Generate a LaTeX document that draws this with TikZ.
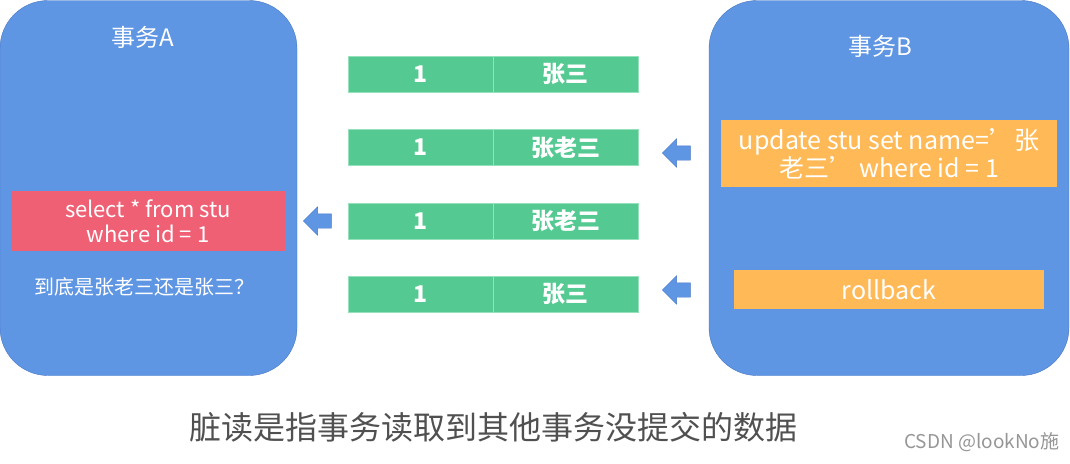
\documentclass[tikz,border=0pt]{standalone}
\usepackage{fontspec}
\setmainfont{Noto Sans CJK SC}
\usetikzlibrary{shapes.arrows}
\definecolor{DrBlue}{RGB}{94,150,228}
\definecolor{DrBlueEdge}{RGB}{72,118,196}
\definecolor{DrRed}{RGB}{239,96,117}
\definecolor{DrOrange}{RGB}{255,185,86}
\definecolor{DrGreen}{RGB}{84,201,146}
\definecolor{DrGreenEdge}{RGB}{150,224,188}
\definecolor{DrInk}{RGB}{80,80,80}
\definecolor{DrMark}{RGB}{150,150,150}
\tikzset{
  dr/txn/.style={
    draw=DrBlueEdge,
    fill=DrBlue,
    rounded corners=48pt,
    inner sep=0pt
  },
  dr/title/.style={text=white, font=\fontsize{24}{28}\selectfont},
  dr/sql/.style={
    fill=DrRed,
    text=white,
    align=center,
    inner sep=0pt,
    font=\fontsize{22}{25}\selectfont
  },
  dr/op/.style={
    fill=DrOrange,
    text=white,
    align=center,
    inner sep=0pt,
    font=\fontsize{25}{28}\selectfont
  },
  dr/cell/.style={
    fill=DrGreen,
    draw=DrGreenEdge,
    line width=0.8pt,
    minimum width=145pt,
    minimum height=36pt,
    inner sep=0pt,
    text=white,
    font=\bfseries\fontsize{23}{26}\selectfont
  },
  dr/push/.style={
    single arrow,
    shape border rotate=180,
    draw=DrBlueEdge,
    fill=DrBlue,
    minimum height=28pt,
    single arrow head extend=7pt,
    inner sep=7pt
  },
  dr/note/.style={text=white, font=\fontsize{20}{24}\selectfont}
}
\begin{document}
\begin{tikzpicture}[x=1pt,y=-1pt]
  \useasboundingbox (0,0) rectangle (1070,463);
  % transaction A
  \node[dr/txn,minimum width=297pt,minimum height=375pt] (txnA) at (148.5,188) {};
  \node[dr/title] (titleA) at (143,37) {事务A};
  \node[dr/sql,minimum width=274pt,minimum height=60pt] (select) at (148,221) {select * from stu\\where id = 1};
  \node[dr/note] (doubt) at (144,287) {到底是张老三还是张三？};
  % transaction B
  \node[dr/txn,minimum width=360pt,minimum height=375pt] (txnB) at (889,188) {};
  \node[dr/title] (titleB) at (880,46) {事务B};
  \node[dr/op,minimum width=336pt,minimum height=67pt] (update) at (889,153.5) {update stu set name=’张\\老三’ where id = 1};
  \node[dr/op,minimum width=310pt,minimum height=39pt] (rollback) at (889,289.5) {rollback};
  % rows of stu
  \node[dr/cell] (r1id) at (420.5,74) {1};
  \node[dr/cell] (r1name) at (565.5,74) {张三};
  \node[dr/cell] (r2id) at (420.5,147.5) {1};
  \node[dr/cell] (r2name) at (565.5,147.5) {张老三};
  \node[dr/cell] (r3id) at (420.5,221) {1};
  \node[dr/cell] (r3name) at (565.5,221) {张老三};
  \node[dr/cell] (r4id) at (420.5,294) {1};
  \node[dr/cell] (r4name) at (565.5,294) {张三};
  % block arrows
  \node[dr/push] (pushUpdate) at (680,153) {};
  \node[dr/push] (pushRollback) at (680,290) {};
  \node[dr/push] (pushRead) at (321,221) {};
  % caption
  \node[text=DrInk,font=\fontsize{32}{36}\selectfont] (caption) at (493,427) {脏读是指事务读取到其他事务没提交的数据};
  \node[text=DrMark,font=\fontsize{19}{22}\selectfont,anchor=east] (mark) at (1063,442) {CSDN @lookNo施};
\end{tikzpicture}
\end{document}
